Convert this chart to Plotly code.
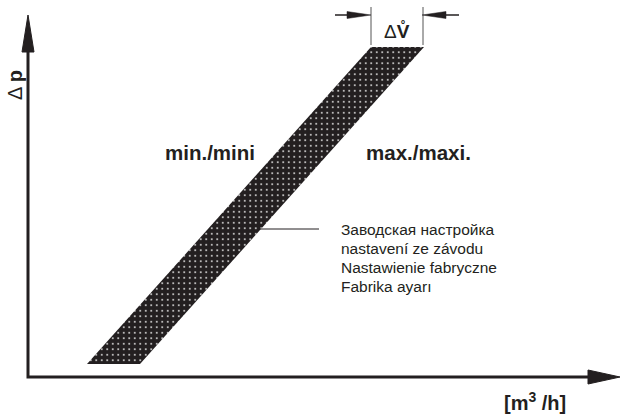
import plotly.graph_objects as go

# ---- data (arbitrary flow / pressure units, origin at axis crossing) ----
band_dp = [13, 330]          # pressure range covered by band (bottom, top)
flow_min = [59, 343]         # min setting line: flow at bottom / top
flow_max = [112, 396]        # max setting line: flow at bottom / top

axis_x_end = 592             # x-axis arrow tip
axis_y_end = 362             # y-axis arrow tip

dim_y = 362                  # ΔV dimension line level
dim_ext = [332, 370]         # extension lines vertical span

leader_x = [230, 291]
leader_y = 148

setting_labels = ["Заводская настройка", "nastavení ze závodu",
                  "Nastawienie fabryczne", "Fabrika ayarı"]
setting_label_y = [148, 129, 110, 91]

INK = "#231f20"
FONT = "Liberation Sans"

fig = go.Figure()

# band (parallelogram) with dotted pattern
bx = [flow_min[0], flow_max[0], flow_max[1], flow_min[1], flow_min[0]]
by = [band_dp[0], band_dp[0], band_dp[1], band_dp[1], band_dp[0]]
fig.add_trace(go.Scatter(
    x=bx, y=by, mode="lines", fill="toself", line=dict(width=0),
    fillcolor=INK,
    fillpattern=dict(shape=".", bgcolor=INK, fgcolor="white",
                     fgopacity=0.85, size=5.5, solidity=0.1),
    hoverinfo="skip"))

# axes
ah_len_y = 37
ah_len_x = 32
fig.add_trace(go.Scatter(
    x=[0, 0, axis_x_end - ah_len_x], y=[axis_y_end - ah_len_y, 0, 0],
    mode="lines", line=dict(color=INK, width=3), hoverinfo="skip"))
# arrowheads
fig.add_trace(go.Scatter(
    x=[0, -6, 6, 0], y=[axis_y_end, axis_y_end - ah_len_y, axis_y_end - ah_len_y, axis_y_end],
    mode="lines", fill="toself", fillcolor=INK, line=dict(color=INK, width=1),
    hoverinfo="skip"))
fig.add_trace(go.Scatter(
    x=[axis_x_end, axis_x_end - ah_len_x, axis_x_end - ah_len_x, axis_x_end],
    y=[0, 7, -7, 0],
    mode="lines", fill="toself", fillcolor=INK, line=dict(color=INK, width=1),
    hoverinfo="skip"))

# ΔV dimension: extension lines
for xv in [flow_min[1], flow_max[1] - 1]:
    fig.add_trace(go.Scatter(x=[xv, xv], y=dim_ext, mode="lines",
                             line=dict(color="#555", width=1), hoverinfo="skip"))
# dimension arrows
L0, L1 = flow_min[1] - 36, flow_min[1]
R0, R1 = flow_max[1] - 2, flow_max[1] + 35
fig.add_trace(go.Scatter(x=[L0, L1 - 20], y=[dim_y, dim_y], mode="lines",
                         line=dict(color=INK, width=1.5), hoverinfo="skip"))
fig.add_trace(go.Scatter(x=[R0 + 20, R1], y=[dim_y, dim_y], mode="lines",
                         line=dict(color=INK, width=1.5), hoverinfo="skip"))
fig.add_trace(go.Scatter(x=[L1, L1 - 24, L1 - 24, L1], y=[dim_y, dim_y + 3.5, dim_y - 3.5, dim_y],
                         mode="lines", fill="toself", fillcolor=INK,
                         line=dict(color=INK, width=0.5), hoverinfo="skip"))
fig.add_trace(go.Scatter(x=[R0, R0 + 24, R0 + 24, R0], y=[dim_y, dim_y + 3.5, dim_y - 3.5, dim_y],
                         mode="lines", fill="toself", fillcolor=INK,
                         line=dict(color=INK, width=0.5), hoverinfo="skip"))

# leader line
fig.add_trace(go.Scatter(x=leader_x, y=[leader_y, leader_y], mode="lines",
                         line=dict(color=INK, width=1), hoverinfo="skip"))

ann = []
for t, yv in zip(setting_labels, setting_label_y):
    ann.append(dict(x=311, y=yv, text=t, xanchor="left", yanchor="middle",
                    showarrow=False, font=dict(family=FONT, size=15.5, color=INK)))
ann.append(dict(x=182, y=225, text="<b>min./mini</b>", xanchor="center", yanchor="middle",
                showarrow=False, font=dict(family=FONT, size=20.5, color=INK)))
ann.append(dict(x=390, y=225, text="<b>max./maxi.</b>", xanchor="center", yanchor="middle",
                showarrow=False, font=dict(family=FONT, size=20.5, color=INK)))
ann.append(dict(x=-13, y=292, text="Δ <b>p</b>", textangle=-90, xanchor="center", yanchor="middle",
                showarrow=False, font=dict(family=FONT, size=20, color=INK)))
ann.append(dict(x=369, y=346, text="Δ<b>V̊</b>", xanchor="center", yanchor="middle",
                showarrow=False, font=dict(family=FONT, size=19, color=INK)))
ann.append(dict(x=507, y=-24, text="<b>[m<sup>3</sup> /h]</b>", xanchor="center", yanchor="middle",
                showarrow=False, font=dict(family=FONT, size=20, color=INK)))

fig.update_layout(
    width=622, height=417, margin=dict(l=0, r=0, t=0, b=0),
    paper_bgcolor="white", plot_bgcolor="white", showlegend=False,
    xaxis=dict(range=[-28, 594], visible=False, fixedrange=True),
    yaxis=dict(range=[-40, 377], visible=False, fixedrange=True),
    annotations=ann,
)

fig.write_html("out.html", config={"displayModeBar": False},
               post_script="document.body.style.margin='0';document.body.style.overflow='hidden';")
